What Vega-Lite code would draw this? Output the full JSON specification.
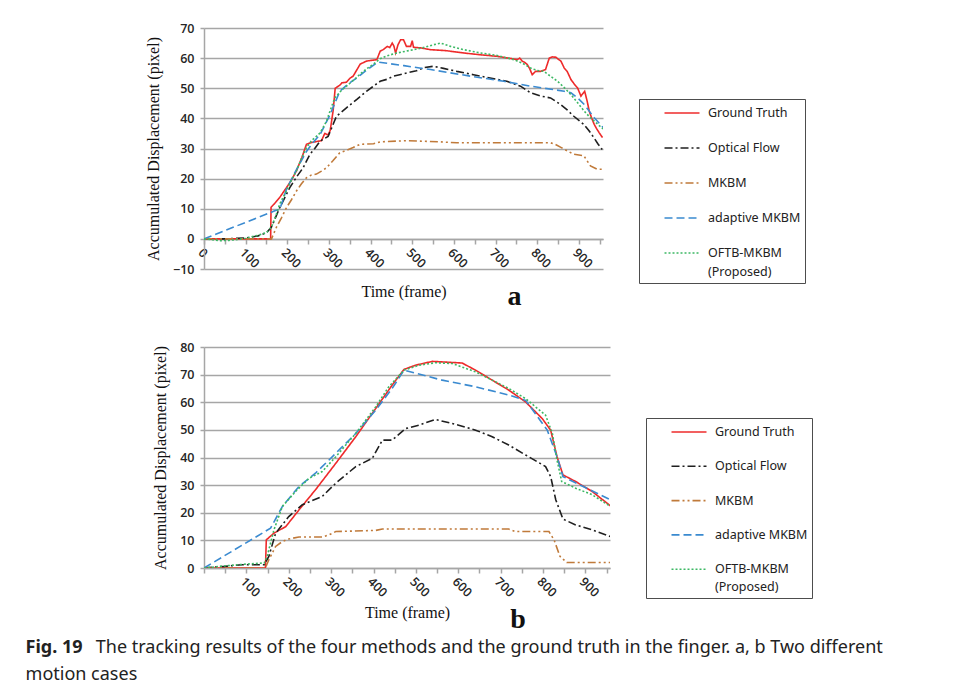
{
  "$schema": "https://vega.github.io/schema/vega-lite/v6.json",
  "background": "white",
  "padding": {"left": 25, "top": 22, "right": 10, "bottom": 5},
  "datasets": {
    "a": [
      {"s":"Ground Truth","f":0,"v":0},{"s":"Ground Truth","f":50,"v":0},{"s":"Ground Truth","f":100,"v":0},{"s":"Ground Truth","f":160,"v":0},{"s":"Ground Truth","f":161,"v":10.5},{"s":"Ground Truth","f":170,"v":11.8},{"s":"Ground Truth","f":182,"v":13.8},{"s":"Ground Truth","f":198,"v":17},{"s":"Ground Truth","f":210,"v":19.5},{"s":"Ground Truth","f":222,"v":22.6},{"s":"Ground Truth","f":235,"v":27},{"s":"Ground Truth","f":246,"v":31.4},{"s":"Ground Truth","f":258,"v":32},{"s":"Ground Truth","f":270,"v":32.3},{"s":"Ground Truth","f":282,"v":32.6},{"s":"Ground Truth","f":290,"v":35},{"s":"Ground Truth","f":298,"v":34.5},{"s":"Ground Truth","f":303,"v":36},{"s":"Ground Truth","f":310,"v":42.5},{"s":"Ground Truth","f":315,"v":50},{"s":"Ground Truth","f":326,"v":51},{"s":"Ground Truth","f":331,"v":51.8},{"s":"Ground Truth","f":342,"v":52},{"s":"Ground Truth","f":351,"v":53.4},{"s":"Ground Truth","f":358,"v":54},{"s":"Ground Truth","f":375,"v":58},{"s":"Ground Truth","f":390,"v":59},{"s":"Ground Truth","f":399,"v":59.2},{"s":"Ground Truth","f":415,"v":59.5},{"s":"Ground Truth","f":423,"v":62.3},{"s":"Ground Truth","f":430,"v":62.8},{"s":"Ground Truth","f":440,"v":63.9},{"s":"Ground Truth","f":446,"v":63.5},{"s":"Ground Truth","f":452,"v":65},{"s":"Ground Truth","f":456,"v":64},{"s":"Ground Truth","f":460,"v":61.7},{"s":"Ground Truth","f":466,"v":64.5},{"s":"Ground Truth","f":472,"v":66.1},{"s":"Ground Truth","f":479,"v":66.1},{"s":"Ground Truth","f":486,"v":63.9},{"s":"Ground Truth","f":496,"v":63.9},{"s":"Ground Truth","f":500,"v":65.8},{"s":"Ground Truth","f":503,"v":63.6},{"s":"Ground Truth","f":520,"v":63.4},{"s":"Ground Truth","f":544,"v":62.8},{"s":"Ground Truth","f":580,"v":62.5},{"s":"Ground Truth","f":624,"v":61.7},{"s":"Ground Truth","f":664,"v":61.1},{"s":"Ground Truth","f":704,"v":60.6},{"s":"Ground Truth","f":740,"v":59.8},{"s":"Ground Truth","f":752,"v":59.5},{"s":"Ground Truth","f":758,"v":60},{"s":"Ground Truth","f":764,"v":59},{"s":"Ground Truth","f":770,"v":58.6},{"s":"Ground Truth","f":776,"v":57.9},{"s":"Ground Truth","f":782,"v":56.5},{"s":"Ground Truth","f":788,"v":54.5},{"s":"Ground Truth","f":796,"v":55.6},{"s":"Ground Truth","f":808,"v":55.6},{"s":"Ground Truth","f":820,"v":56.2},{"s":"Ground Truth","f":829,"v":60},{"s":"Ground Truth","f":836,"v":60.4},{"s":"Ground Truth","f":845,"v":60.3},{"s":"Ground Truth","f":851,"v":59.6},{"s":"Ground Truth","f":857,"v":59},{"s":"Ground Truth","f":865,"v":56.7},{"s":"Ground Truth","f":872,"v":55.6},{"s":"Ground Truth","f":881,"v":52.9},{"s":"Ground Truth","f":890,"v":51.2},{"s":"Ground Truth","f":897,"v":50.1},{"s":"Ground Truth","f":905,"v":47.4},{"s":"Ground Truth","f":914,"v":49},{"s":"Ground Truth","f":920,"v":45.7},{"s":"Ground Truth","f":925,"v":42.4},{"s":"Ground Truth","f":931,"v":40},{"s":"Ground Truth","f":937,"v":38},{"s":"Ground Truth","f":943,"v":36.5},{"s":"Ground Truth","f":949,"v":35.2},{"s":"Ground Truth","f":957,"v":33.6},
      {"s":"Optical Flow","f":0,"v":0},{"s":"Optical Flow","f":50,"v":0},{"s":"Optical Flow","f":100,"v":0.3},{"s":"Optical Flow","f":130,"v":1},{"s":"Optical Flow","f":150,"v":2},{"s":"Optical Flow","f":162,"v":3.9},{"s":"Optical Flow","f":182,"v":10.4},{"s":"Optical Flow","f":206,"v":17},{"s":"Optical Flow","f":222,"v":20.5},{"s":"Optical Flow","f":238,"v":23.6},{"s":"Optical Flow","f":254,"v":28},{"s":"Optical Flow","f":266,"v":30},{"s":"Optical Flow","f":279,"v":32.5},{"s":"Optical Flow","f":298,"v":34},{"s":"Optical Flow","f":318,"v":40.7},{"s":"Optical Flow","f":342,"v":43.5},{"s":"Optical Flow","f":367,"v":46.3},{"s":"Optical Flow","f":390,"v":49},{"s":"Optical Flow","f":405,"v":50.5},{"s":"Optical Flow","f":423,"v":52.3},{"s":"Optical Flow","f":440,"v":53},{"s":"Optical Flow","f":455,"v":54},{"s":"Optical Flow","f":470,"v":54.5},{"s":"Optical Flow","f":487,"v":55.1},{"s":"Optical Flow","f":510,"v":55.8},{"s":"Optical Flow","f":527,"v":56.8},{"s":"Optical Flow","f":551,"v":57.3},{"s":"Optical Flow","f":575,"v":56.6},{"s":"Optical Flow","f":607,"v":55.6},{"s":"Optical Flow","f":647,"v":54.5},{"s":"Optical Flow","f":690,"v":53.3},{"s":"Optical Flow","f":727,"v":52.3},{"s":"Optical Flow","f":760,"v":50.7},{"s":"Optical Flow","f":784,"v":48.5},{"s":"Optical Flow","f":808,"v":47.4},{"s":"Optical Flow","f":832,"v":46.8},{"s":"Optical Flow","f":856,"v":44.6},{"s":"Optical Flow","f":872,"v":42.8},{"s":"Optical Flow","f":888,"v":40.7},{"s":"Optical Flow","f":912,"v":38},{"s":"Optical Flow","f":924,"v":36},{"s":"Optical Flow","f":936,"v":33.6},{"s":"Optical Flow","f":946,"v":31.5},{"s":"Optical Flow","f":956,"v":29.7},
      {"s":"MKBM","f":0,"v":0},{"s":"MKBM","f":100,"v":0},{"s":"MKBM","f":162,"v":0},{"s":"MKBM","f":174,"v":3.9},{"s":"MKBM","f":186,"v":7},{"s":"MKBM","f":198,"v":10.4},{"s":"MKBM","f":210,"v":13},{"s":"MKBM","f":222,"v":15.9},{"s":"MKBM","f":234,"v":18.3},{"s":"MKBM","f":246,"v":20.3},{"s":"MKBM","f":258,"v":21.2},{"s":"MKBM","f":270,"v":21.5},{"s":"MKBM","f":282,"v":22.5},{"s":"MKBM","f":294,"v":23.6},{"s":"MKBM","f":310,"v":26},{"s":"MKBM","f":326,"v":28.6},{"s":"MKBM","f":338,"v":29.2},{"s":"MKBM","f":358,"v":30.3},{"s":"MKBM","f":375,"v":31.4},{"s":"MKBM","f":407,"v":31.6},{"s":"MKBM","f":423,"v":32.2},{"s":"MKBM","f":487,"v":32.6},{"s":"MKBM","f":567,"v":32.2},{"s":"MKBM","f":607,"v":31.9},{"s":"MKBM","f":700,"v":31.9},{"s":"MKBM","f":832,"v":31.9},{"s":"MKBM","f":843,"v":31.4},{"s":"MKBM","f":858,"v":30.3},{"s":"MKBM","f":872,"v":29.2},{"s":"MKBM","f":888,"v":28.1},{"s":"MKBM","f":912,"v":27.6},{"s":"MKBM","f":928,"v":24.2},{"s":"MKBM","f":944,"v":23.1},{"s":"MKBM","f":956,"v":23.1},
      {"s":"adaptive MKBM","f":0,"v":0},{"s":"adaptive MKBM","f":170,"v":9.3},{"s":"adaptive MKBM","f":182,"v":9.8},{"s":"adaptive MKBM","f":198,"v":16.5},{"s":"adaptive MKBM","f":222,"v":23},{"s":"adaptive MKBM","f":246,"v":29},{"s":"adaptive MKBM","f":262,"v":32},{"s":"adaptive MKBM","f":279,"v":34.7},{"s":"adaptive MKBM","f":303,"v":41.3},{"s":"adaptive MKBM","f":326,"v":49},{"s":"adaptive MKBM","f":345,"v":51.3},{"s":"adaptive MKBM","f":367,"v":53.4},{"s":"adaptive MKBM","f":390,"v":56},{"s":"adaptive MKBM","f":418,"v":58.7},{"s":"adaptive MKBM","f":480,"v":57.5},{"s":"adaptive MKBM","f":544,"v":56.2},{"s":"adaptive MKBM","f":640,"v":54},{"s":"adaptive MKBM","f":720,"v":52.3},{"s":"adaptive MKBM","f":784,"v":50.7},{"s":"adaptive MKBM","f":865,"v":49},{"s":"adaptive MKBM","f":881,"v":48.5},{"s":"adaptive MKBM","f":897,"v":46.8},{"s":"adaptive MKBM","f":913,"v":44.6},{"s":"adaptive MKBM","f":937,"v":40.2},{"s":"adaptive MKBM","f":958,"v":37},
      {"s":"OFTB-MKBM (Proposed)","f":0,"v":0},{"s":"OFTB-MKBM (Proposed)","f":20,"v":-0.3},{"s":"OFTB-MKBM (Proposed)","f":40,"v":-0.6},{"s":"OFTB-MKBM (Proposed)","f":60,"v":-0.5},{"s":"OFTB-MKBM (Proposed)","f":80,"v":-0.2},{"s":"OFTB-MKBM (Proposed)","f":100,"v":0.2},{"s":"OFTB-MKBM (Proposed)","f":130,"v":1.2},{"s":"OFTB-MKBM (Proposed)","f":150,"v":2.1},{"s":"OFTB-MKBM (Proposed)","f":162,"v":3.9},{"s":"OFTB-MKBM (Proposed)","f":174,"v":8.3},{"s":"OFTB-MKBM (Proposed)","f":182,"v":11.6},{"s":"OFTB-MKBM (Proposed)","f":198,"v":16},{"s":"OFTB-MKBM (Proposed)","f":210,"v":19.5},{"s":"OFTB-MKBM (Proposed)","f":222,"v":22.6},{"s":"OFTB-MKBM (Proposed)","f":235,"v":27},{"s":"OFTB-MKBM (Proposed)","f":246,"v":30.3},{"s":"OFTB-MKBM (Proposed)","f":258,"v":32.6},{"s":"OFTB-MKBM (Proposed)","f":268,"v":33.8},{"s":"OFTB-MKBM (Proposed)","f":279,"v":35.2},{"s":"OFTB-MKBM (Proposed)","f":294,"v":39},{"s":"OFTB-MKBM (Proposed)","f":304,"v":43},{"s":"OFTB-MKBM (Proposed)","f":314,"v":46.8},{"s":"OFTB-MKBM (Proposed)","f":328,"v":49},{"s":"OFTB-MKBM (Proposed)","f":342,"v":50.7},{"s":"OFTB-MKBM (Proposed)","f":360,"v":52.8},{"s":"OFTB-MKBM (Proposed)","f":375,"v":54.7},{"s":"OFTB-MKBM (Proposed)","f":390,"v":56.4},{"s":"OFTB-MKBM (Proposed)","f":407,"v":58},{"s":"OFTB-MKBM (Proposed)","f":423,"v":59.8},{"s":"OFTB-MKBM (Proposed)","f":440,"v":60.8},{"s":"OFTB-MKBM (Proposed)","f":463,"v":61.7},{"s":"OFTB-MKBM (Proposed)","f":503,"v":62.8},{"s":"OFTB-MKBM (Proposed)","f":530,"v":63.6},{"s":"OFTB-MKBM (Proposed)","f":550,"v":64.4},{"s":"OFTB-MKBM (Proposed)","f":568,"v":65},{"s":"OFTB-MKBM (Proposed)","f":592,"v":63.9},{"s":"OFTB-MKBM (Proposed)","f":624,"v":62.8},{"s":"OFTB-MKBM (Proposed)","f":664,"v":61.7},{"s":"OFTB-MKBM (Proposed)","f":704,"v":60.9},{"s":"OFTB-MKBM (Proposed)","f":744,"v":59.5},{"s":"OFTB-MKBM (Proposed)","f":765,"v":58.3},{"s":"OFTB-MKBM (Proposed)","f":784,"v":56.7},{"s":"OFTB-MKBM (Proposed)","f":800,"v":55.9},{"s":"OFTB-MKBM (Proposed)","f":816,"v":55.6},{"s":"OFTB-MKBM (Proposed)","f":832,"v":54},{"s":"OFTB-MKBM (Proposed)","f":849,"v":52.3},{"s":"OFTB-MKBM (Proposed)","f":865,"v":50.2},{"s":"OFTB-MKBM (Proposed)","f":881,"v":47.9},{"s":"OFTB-MKBM (Proposed)","f":897,"v":45.2},{"s":"OFTB-MKBM (Proposed)","f":913,"v":42.4},{"s":"OFTB-MKBM (Proposed)","f":925,"v":40.6},{"s":"OFTB-MKBM (Proposed)","f":937,"v":39.1},{"s":"OFTB-MKBM (Proposed)","f":949,"v":37.6},{"s":"OFTB-MKBM (Proposed)","f":958,"v":36.5}
    ],
    "b": [
      {"s":"Ground Truth","f":0,"v":0},{"s":"Ground Truth","f":100,"v":0},{"s":"Ground Truth","f":145,"v":0},{"s":"Ground Truth","f":147,"v":10.2},{"s":"Ground Truth","f":165,"v":12.6},{"s":"Ground Truth","f":193,"v":15},{"s":"Ground Truth","f":224,"v":21},{"s":"Ground Truth","f":263,"v":28.3},{"s":"Ground Truth","f":311,"v":37.9},{"s":"Ground Truth","f":358,"v":47.5},{"s":"Ground Truth","f":405,"v":57.7},{"s":"Ground Truth","f":444,"v":66.2},{"s":"Ground Truth","f":472,"v":71.9},{"s":"Ground Truth","f":499,"v":73.4},{"s":"Ground Truth","f":539,"v":74.8},{"s":"Ground Truth","f":562,"v":74.6},{"s":"Ground Truth","f":609,"v":74.2},{"s":"Ground Truth","f":641,"v":71.6},{"s":"Ground Truth","f":680,"v":68},{"s":"Ground Truth","f":719,"v":64.4},{"s":"Ground Truth","f":759,"v":60.1},{"s":"Ground Truth","f":798,"v":54.1},{"s":"Ground Truth","f":818,"v":49.9},{"s":"Ground Truth","f":833,"v":40.3},{"s":"Ground Truth","f":847,"v":33.7},{"s":"Ground Truth","f":877,"v":31.3},{"s":"Ground Truth","f":916,"v":27.7},{"s":"Ground Truth","f":959,"v":22.5},
      {"s":"Optical Flow","f":0,"v":0},{"s":"Optical Flow","f":51,"v":0.6},{"s":"Optical Flow","f":90,"v":1.2},{"s":"Optical Flow","f":142,"v":1.2},{"s":"Optical Flow","f":153,"v":4.2},{"s":"Optical Flow","f":169,"v":12.6},{"s":"Optical Flow","f":200,"v":18.6},{"s":"Optical Flow","f":232,"v":22.9},{"s":"Optical Flow","f":279,"v":25.9},{"s":"Optical Flow","f":311,"v":30.7},{"s":"Optical Flow","f":358,"v":36.7},{"s":"Optical Flow","f":397,"v":39.7},{"s":"Optical Flow","f":421,"v":46.3},{"s":"Optical Flow","f":444,"v":46.3},{"s":"Optical Flow","f":476,"v":50.5},{"s":"Optical Flow","f":507,"v":51.7},{"s":"Optical Flow","f":546,"v":53.8},{"s":"Optical Flow","f":601,"v":51.7},{"s":"Optical Flow","f":641,"v":49.9},{"s":"Optical Flow","f":680,"v":47.5},{"s":"Optical Flow","f":719,"v":44.5},{"s":"Optical Flow","f":759,"v":40.9},{"s":"Optical Flow","f":806,"v":36.7},{"s":"Optical Flow","f":818,"v":33.1},{"s":"Optical Flow","f":830,"v":24.7},{"s":"Optical Flow","f":847,"v":17.7},{"s":"Optical Flow","f":877,"v":15.6},{"s":"Optical Flow","f":916,"v":13.8},{"s":"Optical Flow","f":959,"v":11.4},
      {"s":"MKBM","f":0,"v":0},{"s":"MKBM","f":145,"v":0},{"s":"MKBM","f":153,"v":3},{"s":"MKBM","f":169,"v":7.8},{"s":"MKBM","f":185,"v":9.6},{"s":"MKBM","f":200,"v":10.5},{"s":"MKBM","f":224,"v":11.2},{"s":"MKBM","f":279,"v":11.2},{"s":"MKBM","f":295,"v":12},{"s":"MKBM","f":311,"v":13.2},{"s":"MKBM","f":405,"v":13.6},{"s":"MKBM","f":421,"v":14.1},{"s":"MKBM","f":719,"v":14.1},{"s":"MKBM","f":735,"v":13.2},{"s":"MKBM","f":814,"v":13.2},{"s":"MKBM","f":826,"v":10.2},{"s":"MKBM","f":840,"v":4.2},{"s":"MKBM","f":856,"v":2},{"s":"MKBM","f":959,"v":2},
      {"s":"adaptive MKBM","f":0,"v":0},{"s":"adaptive MKBM","f":157,"v":14.4},{"s":"adaptive MKBM","f":185,"v":22.3},{"s":"adaptive MKBM","f":224,"v":29.5},{"s":"adaptive MKBM","f":263,"v":34.3},{"s":"adaptive MKBM","f":295,"v":39.1},{"s":"adaptive MKBM","f":358,"v":48.7},{"s":"adaptive MKBM","f":405,"v":57.1},{"s":"adaptive MKBM","f":444,"v":65},{"s":"adaptive MKBM","f":472,"v":71.6},{"s":"adaptive MKBM","f":562,"v":68},{"s":"adaptive MKBM","f":641,"v":65.6},{"s":"adaptive MKBM","f":719,"v":62.6},{"s":"adaptive MKBM","f":759,"v":60.7},{"s":"adaptive MKBM","f":810,"v":49.9},{"s":"adaptive MKBM","f":833,"v":40.3},{"s":"adaptive MKBM","f":847,"v":33.1},{"s":"adaptive MKBM","f":959,"v":24.7},
      {"s":"OFTB-MKBM (Proposed)","f":0,"v":0},{"s":"OFTB-MKBM (Proposed)","f":51,"v":0.8},{"s":"OFTB-MKBM (Proposed)","f":98,"v":1.4},{"s":"OFTB-MKBM (Proposed)","f":142,"v":1.8},{"s":"OFTB-MKBM (Proposed)","f":149,"v":4.2},{"s":"OFTB-MKBM (Proposed)","f":165,"v":13.8},{"s":"OFTB-MKBM (Proposed)","f":185,"v":22.3},{"s":"OFTB-MKBM (Proposed)","f":216,"v":27.7},{"s":"OFTB-MKBM (Proposed)","f":248,"v":32.5},{"s":"OFTB-MKBM (Proposed)","f":279,"v":34.9},{"s":"OFTB-MKBM (Proposed)","f":311,"v":40.3},{"s":"OFTB-MKBM (Proposed)","f":358,"v":48.7},{"s":"OFTB-MKBM (Proposed)","f":405,"v":58.3},{"s":"OFTB-MKBM (Proposed)","f":436,"v":65.6},{"s":"OFTB-MKBM (Proposed)","f":472,"v":71.6},{"s":"OFTB-MKBM (Proposed)","f":507,"v":73.4},{"s":"OFTB-MKBM (Proposed)","f":546,"v":74.3},{"s":"OFTB-MKBM (Proposed)","f":586,"v":74},{"s":"OFTB-MKBM (Proposed)","f":641,"v":71},{"s":"OFTB-MKBM (Proposed)","f":680,"v":68},{"s":"OFTB-MKBM (Proposed)","f":719,"v":65},{"s":"OFTB-MKBM (Proposed)","f":759,"v":61.3},{"s":"OFTB-MKBM (Proposed)","f":806,"v":55.3},{"s":"OFTB-MKBM (Proposed)","f":822,"v":48.7},{"s":"OFTB-MKBM (Proposed)","f":833,"v":39.1},{"s":"OFTB-MKBM (Proposed)","f":844,"v":31.3},{"s":"OFTB-MKBM (Proposed)","f":877,"v":28.9},{"s":"OFTB-MKBM (Proposed)","f":916,"v":26.5},{"s":"OFTB-MKBM (Proposed)","f":959,"v":22.3}
    ]
  },
  "title": {
    "text": "Fig. 19",
    "subtitle": ["\u2060\u00a0\u00a0\u00a0\u00a0\u00a0\u00a0\u00a0\u00a0\u00a0\u00a0\u00a0\u00a0\u00a0\u00a0\u00a0The tracking results of the four methods and the ground truth in the finger. a, b Two different", "motion cases"],
    "orient": "bottom",
    "anchor": "start",
    "frame": "bounds",
    "dx": -120,
    "offset": 5,
    "font": "Noto Sans",
    "fontSize": 18,
    "fontWeight": "bold",
    "color": "#222",
    "lineHeight": 18,
    "subtitleFont": "Noto Sans",
    "subtitleFontSize": 18,
    "subtitleColor": "#222",
    "subtitleLineHeight": 27,
    "subtitlePadding": -18
  },
  "spacing": 29,
  "resolve": {
    "scale": {"color": "independent", "strokeDash": "independent", "x": "independent", "y": "independent"},
    "legend": {"color": "independent", "strokeDash": "independent"}
  },
  "vconcat": [
    {
      "width": 399,
      "height": 241,
      "data": {"name": "a"},
      "mark": {"type": "line", "strokeWidth": 1.6, "clip": true},
      "title": {"text": "a", "orient": "bottom", "anchor": "middle", "dx": 111, "dy": -16, "offset": 0, "font": "Liberation Serif", "fontSize": 28, "fontWeight": "bold", "color": "#111"},
      "encoding": {
        "x": {"field": "f", "type": "quantitative", "scale": {"domain": [0, 958], "nice": false, "zero": false},
          "axis": {"values": [0,50,100,150,200,250,300,350,400,450,500,550,600,650,700,750,800,850,900,950], "labelExpr": "datum.value % 100 == 0 ? datum.label : ''", "labelAngle": 45, "offset": -30, "grid": false, "tickSize": 5, "labelPadding": 2, "title": "Time  (frame)", "titlePadding": 13}},
        "y": {"field": "v", "type": "quantitative", "scale": {"domain": [-10, 70], "nice": false, "zero": false},
          "axis": {"values": [-10,0,10,20,30,40,50,60,70], "title": "Accumulated  Displacement  (pixel)", "titlePadding": 11, "tickSize": 4, "labelPadding": 6}},
        "color": {"field": "s", "type": "nominal",
          "scale": {"domain": ["Ground Truth","Optical Flow","MKBM","adaptive MKBM","OFTB-MKBM (Proposed)"], "range": ["#ee2a2a","#1f1f1f","#c07a3a","#3a8ad0","#3cb864"]},
          "legend": {"orient": "none", "legendX": 435, "legendY": 71, "labelExpr": "datum.label == 'OFTB-MKBM (Proposed)' ? ['OFTB-MKBM', '(Proposed)'] : datum.label",
            "encode": {"labels": {"update": {"lineHeight": {"value": 19}}}}}},
        "strokeDash": {"field": "s", "type": "nominal",
          "scale": {"domain": ["Ground Truth","Optical Flow","MKBM","adaptive MKBM","OFTB-MKBM (Proposed)"], "range": [[1,0],[8,3,2,3],[8,3,2,3,2,3],[8,4],[2,2]]},
          "legend": {"orient": "none", "legendX": 435, "legendY": 71, "labelExpr": "datum.label == 'OFTB-MKBM (Proposed)' ? ['OFTB-MKBM', '(Proposed)'] : datum.label",
            "encode": {"labels": {"update": {"lineHeight": {"value": 19}}}}}}
      }
    },
    {
      "width": 406,
      "height": 221,
      "data": {"name": "b"},
      "mark": {"type": "line", "strokeWidth": 1.6, "clip": true},
      "title": {"text": "b", "orient": "bottom", "anchor": "middle", "dx": 111, "dy": -14, "offset": 0, "font": "Liberation Serif", "fontSize": 28, "fontWeight": "bold", "color": "#111"},
      "encoding": {
        "x": {"field": "f", "type": "quantitative", "scale": {"domain": [0, 958], "nice": false, "zero": false},
          "axis": {"values": [0,50,100,150,200,250,300,350,400,450,500,550,600,650,700,750,800,850,900,950], "labelExpr": "datum.value % 100 == 0 && datum.value > 0 ? datum.label : ''", "labelAngle": 45, "grid": false, "tickSize": 5, "labelPadding": 2, "title": "Time  (frame)", "titlePadding": 5}},
        "y": {"field": "v", "type": "quantitative", "scale": {"domain": [0, 80], "nice": false, "zero": false},
          "axis": {"values": [0,10,20,30,40,50,60,70,80], "title": "Accumulated  Displacement  (pixel)", "titlePadding": 11, "tickSize": 4, "labelPadding": 6}},
        "color": {"field": "s", "type": "nominal",
          "scale": {"domain": ["Ground Truth","Optical Flow","MKBM","adaptive MKBM","OFTB-MKBM (Proposed)"], "range": ["#ee2a2a","#1f1f1f","#c07a3a","#3a8ad0","#3cb864"]},
          "legend": {"orient": "none", "legendX": 442, "legendY": 71, "rowPadding": 17.3, "labelExpr": "datum.label == 'OFTB-MKBM (Proposed)' ? ['OFTB-MKBM', '(Proposed)'] : datum.label",
            "encode": {"labels": {"update": {"lineHeight": {"value": 18}}}}}},
        "strokeDash": {"field": "s", "type": "nominal",
          "scale": {"domain": ["Ground Truth","Optical Flow","MKBM","adaptive MKBM","OFTB-MKBM (Proposed)"], "range": [[1,0],[8,3,2,3],[8,3,2,3,2,3],[8,4],[2,2]]},
          "legend": {"orient": "none", "legendX": 442, "legendY": 71, "rowPadding": 17.3, "labelExpr": "datum.label == 'OFTB-MKBM (Proposed)' ? ['OFTB-MKBM', '(Proposed)'] : datum.label",
            "encode": {"labels": {"update": {"lineHeight": {"value": 18}}}}}}
      }
    }
  ],
  "config": {
    "view": {"stroke": null},
    "axis": {
      "labelFont": "Open Sans", "labelFontWeight": 600, "labelFontSize": 12.5, "labelColor": "#262626",
      "titleFont": "Liberation Serif", "titleFontWeight": "normal", "titleFontSize": 16, "titleColor": "#111",
      "domainColor": "#a6a6a6", "tickColor": "#a6a6a6", "gridColor": "#a6a6a6",
      "domainWidth": 1.5, "tickWidth": 1.5, "gridWidth": 1.5
    },
    "legend": {
      "title": null,
      "strokeColor": "#4d4d4d",
      "padding": 4,
      "symbolType": "M-2,0H2",
      "symbolSize": 306,
      "symbolStrokeWidth": 1.6,
      "symbolOffset": 29,
      "labelOffset": 16,
      "rowPadding": 18,
      "labelFont": "Noto Sans",
      "labelFontSize": 12.5,
      "labelColor": "#222",
      "labelLimit": 300
    }
  }
}
